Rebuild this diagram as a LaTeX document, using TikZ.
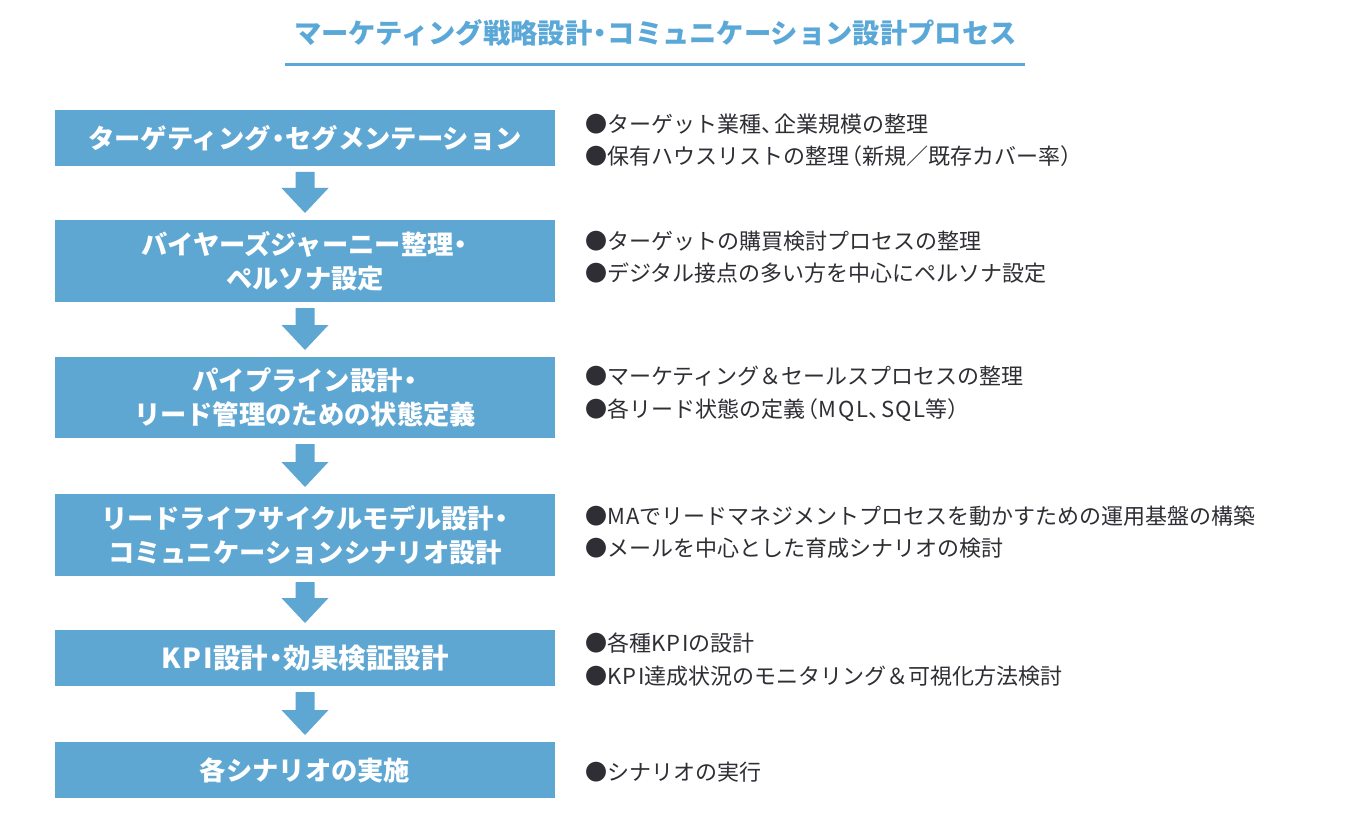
\documentclass[tikz,border=0pt]{standalone}
\usepackage{fontspec}
\setmainfont{Noto Sans CJK JP}
\usetikzlibrary{calc}
\definecolor{boxblue}{HTML}{5FA7D3}
\definecolor{titleblue}{HTML}{5AA8D7}
\definecolor{bodytext}{HTML}{2E2E34}
% proportional punctuation and tracked Latin
\newcommand{\nd}{\kern-0.22em・\kern-0.22em}
\newcommand{\tc}{、\kern-0.4em}
\newcommand{\lp}{\kern-0.38em（}
\newcommand{\rp}{）\kern-0.38em}
\newcommand{\lat}[1]{{\addfontfeature{LetterSpace=7}#1}}
\tikzset{
  stepbox/.style={fill=boxblue, draw=none, minimum width=500pt, inner sep=0pt, outer sep=0pt,
    text=white, align=center, font=\fontsize{26.3}{34}\selectfont\bfseries},
  notes/.style={anchor=west, align=left, inner sep=0pt, text=bodytext,
    font=\fontsize{22}{32.5}\selectfont},
  flowarrow/.style={fill=boxblue, draw=none}
}
\newcommand{\flowdown}[2]{%
  \fill[flowarrow] let \p1=(#1.south), \p2=(#2.north) in
    ({\x1-9.5pt},{\y1-6pt}) -- ({\x1+9.5pt},{\y1-6pt}) -- ({\x1+9.5pt},{\y2+32pt}) --
    ({\x1+23.5pt},{\y2+32pt}) -- ({\x1},{\y2+7pt}) -- ({\x1-23.5pt},{\y2+32pt}) --
    ({\x1-9.5pt},{\y2+32pt}) -- cycle;}
\begin{document}
\begin{tikzpicture}[x=1pt,y=-1pt]
\useasboundingbox (0,0) rectangle (1358,840);
\fill[white] (0,0) rectangle (1358,840);
% title
\node[text=titleblue, font=\fontsize{27.3}{30}\selectfont\bfseries, inner sep=0pt] (title) at (655.5,33)
  {マーケティング戦略設計\nd コミュニケーション設計プロセス};
\coordinate (ulL) at (285,65);
\coordinate (ulR) at (1025,65);
\draw[titleblue, line width=3pt] (ulL) -- (ulR);
% step boxes
\node[stepbox, minimum height=56pt] (b1) at (305,138) {ターゲティング\nd セグメンテーション};
\node[stepbox, minimum height=82pt] (b2) at (305,261) {バイヤーズジャーニー整理\nd\\ペルソナ設定};
\node[stepbox, minimum height=81pt] (b3) at (305,397.5) {パイプライン設計\nd\\リード管理のための状態定義};
\node[stepbox, minimum height=82pt] (b4) at (305,535) {リードライフサイクルモデル設計\nd\\コミュニケーションシナリオ設計};
\node[stepbox, minimum height=56pt, font=\fontsize{27.5}{34}\selectfont\bfseries] (b5) at (305,658) {\lat{KPI}設計\nd 効果検証設計};
\node[stepbox, minimum height=56pt] (b6) at (305,770) {各シナリオの実施};
% arrows
\flowdown{b1}{b2}
\flowdown{b2}{b3}
\flowdown{b3}{b4}
\flowdown{b4}{b5}
\flowdown{b5}{b6}
% notes
\node[notes] (t1) at (585,140.5) {●ターゲット業種\tc 企業規模の整理\\●保有ハウスリストの整理\lp 新規／既存カバー率\rp};
\node[notes] (t2) at (585,257) {●ターゲットの購買検討プロセスの整理\\●デジタル接点の多い方を中心にペルソナ設定};
\node[notes] (t3) at (585,394) {●マーケティング＆セールスプロセスの整理\\●各リード状態の定義\lp\lat{MQL}\tc\lat{SQL}等\rp};
\node[notes] (t4) at (585,532) {●\lat{MA}でリードマネジメントプロセスを動かすための運用基盤の構築\\●メールを中心とした育成シナリオの検討};
\node[notes] (t5) at (585,659.5) {●各種\lat{KPI}の設計\\●\lat{KPI}達成状況のモニタリング＆可視化方法検討};
\node[notes] (t6) at (585,772) {●シナリオの実行};
\end{tikzpicture}
\end{document}
